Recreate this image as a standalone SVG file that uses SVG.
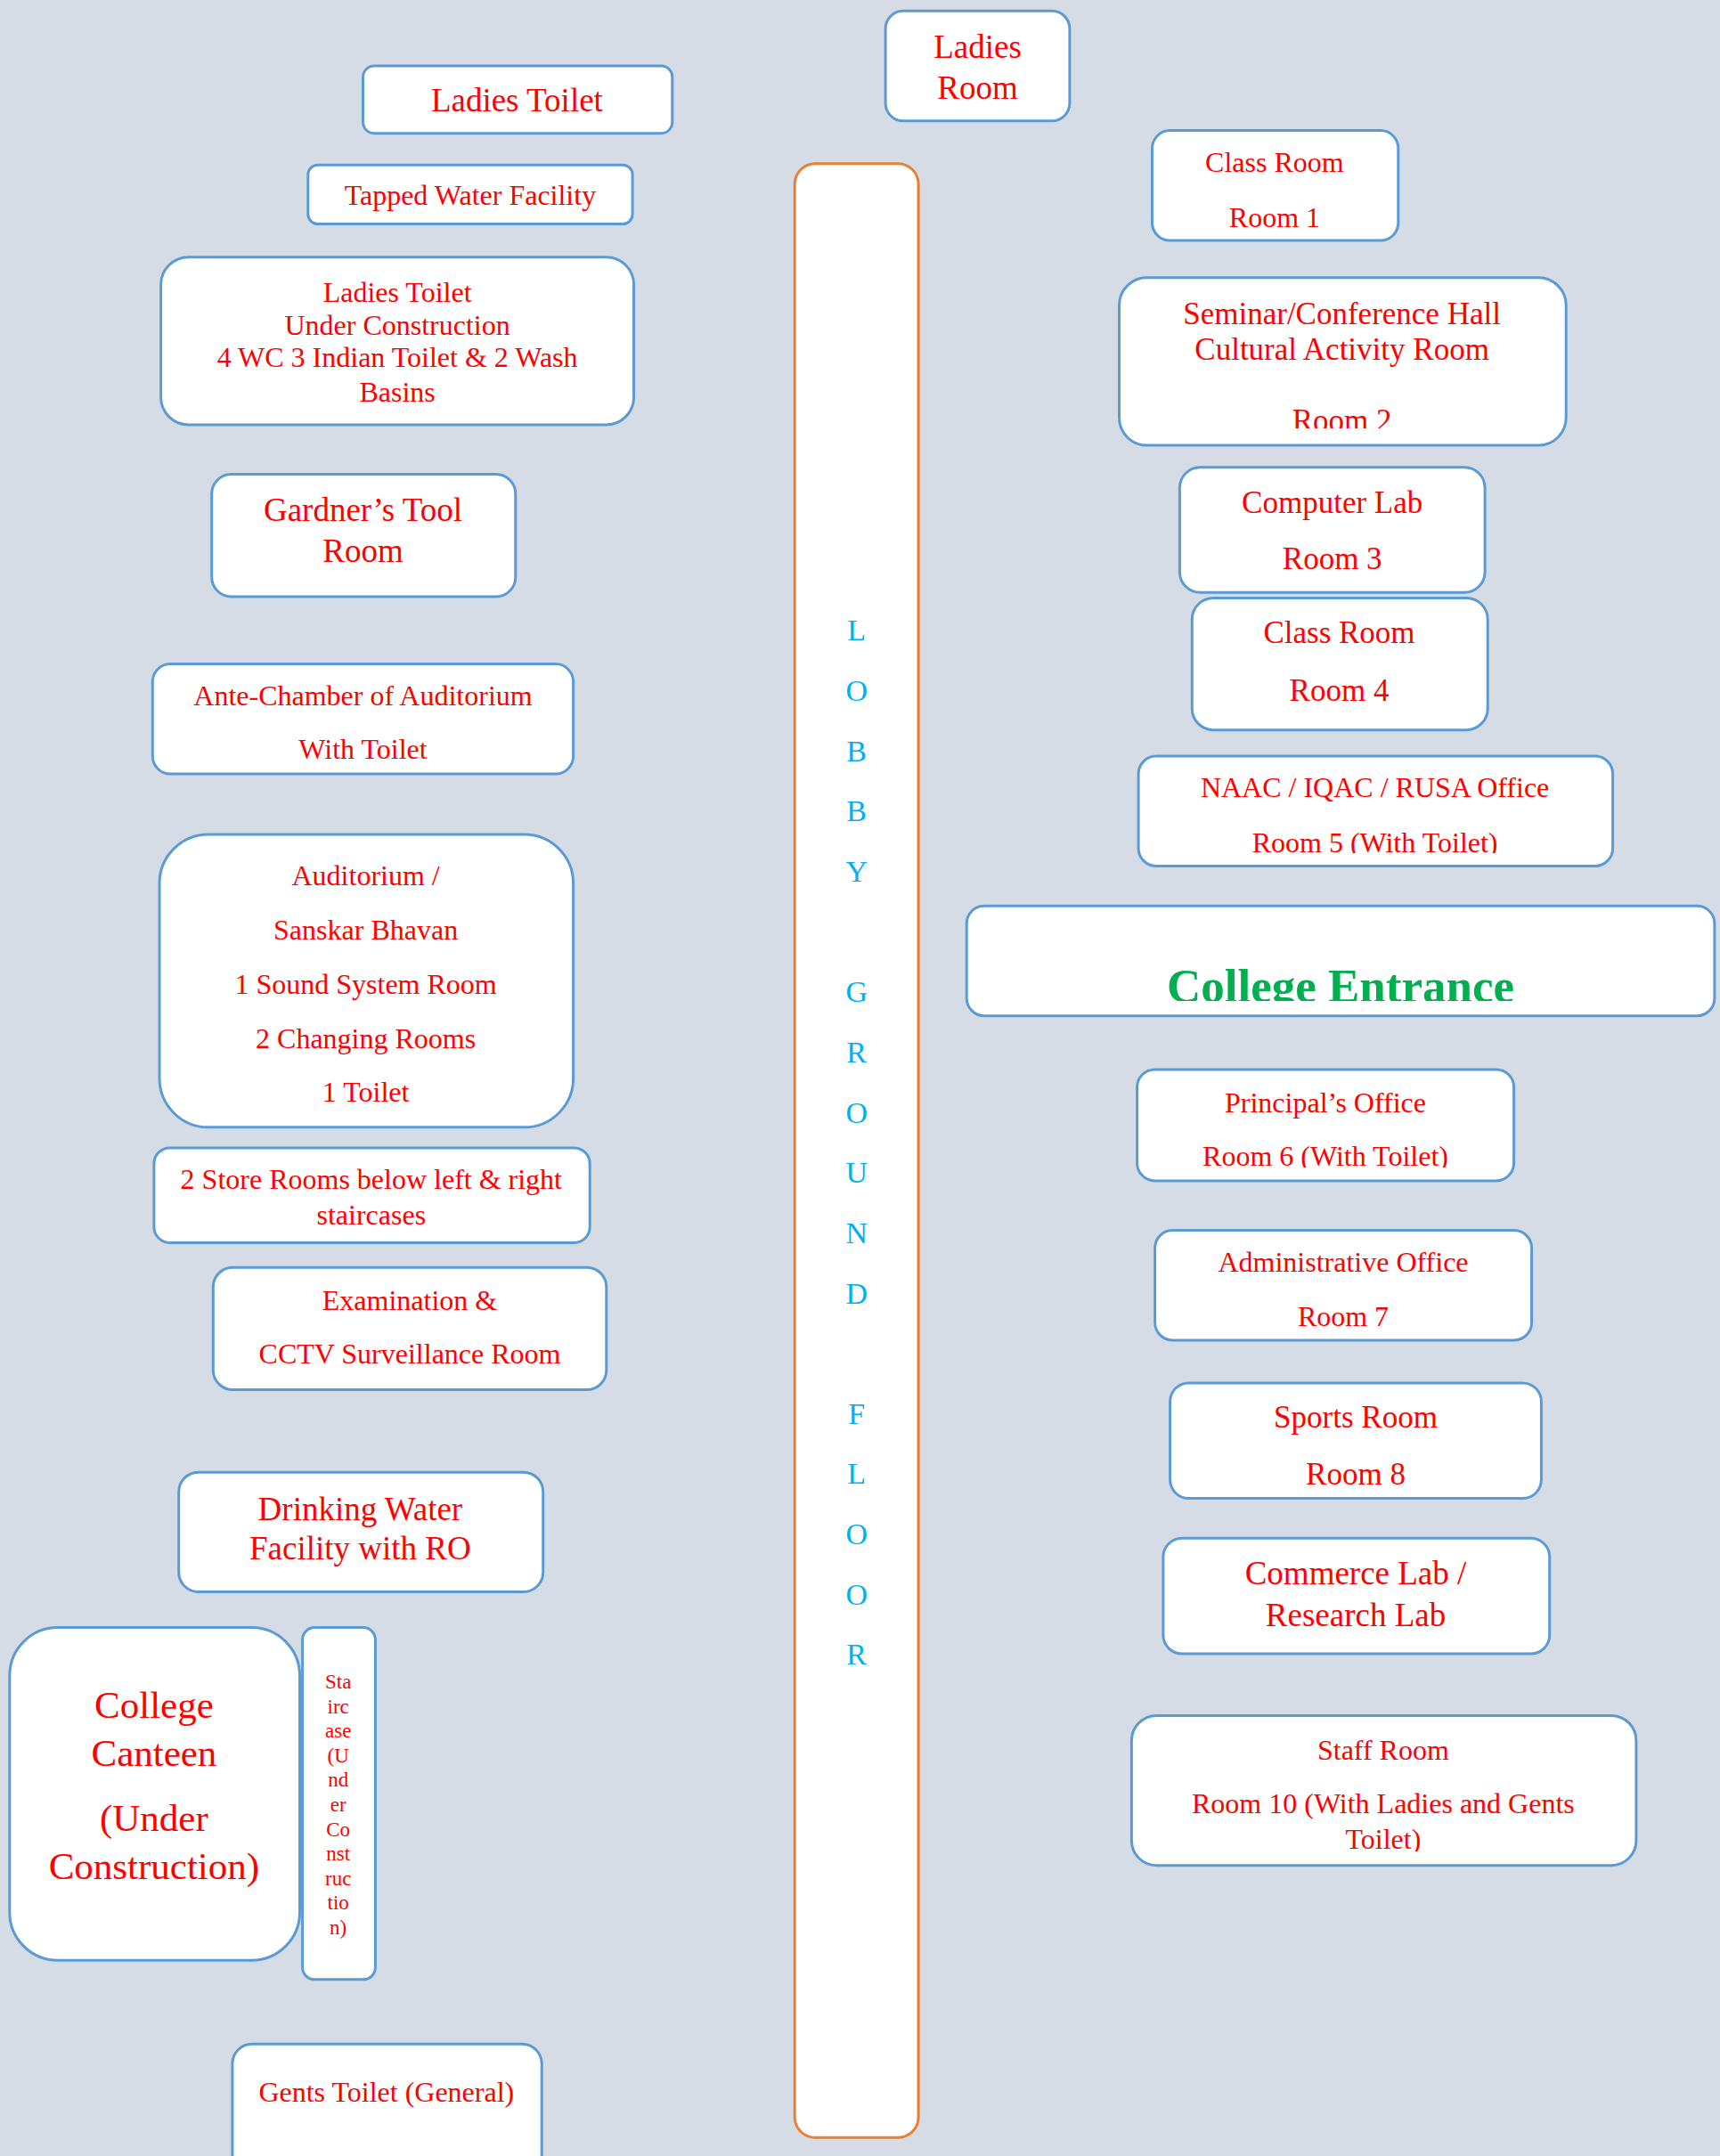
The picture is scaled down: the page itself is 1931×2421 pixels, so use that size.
<svg xmlns="http://www.w3.org/2000/svg" width="1931" height="2421" viewBox="0 0 1931 2421">
<style>
.bx{fill:#FFFFFF;stroke:#5B9BD5;stroke-width:3}
.lobby{fill:#FFFFFF;stroke:#ED7D31;stroke-width:3}
.t{font-family:"Liberation Serif","Times New Roman",serif;fill:#FF0000;text-anchor:middle}
.s32{font-size:32px}
.s35{font-size:35px}
.s37{font-size:37px}
.s43{font-size:43px}
.s23{font-size:23px}
.lt{font-family:"Liberation Serif","Times New Roman",serif;fill:#00B0F0;font-size:34px;text-anchor:middle}
.ent{font-family:"Liberation Serif","Times New Roman",serif;fill:#00B050;font-weight:bold;font-size:53px;text-anchor:middle}
</style>
<defs>
<clipPath id="cSem"><rect x="1256" y="311" width="502" height="170"/></clipPath>
<clipPath id="cNaac"><rect x="1278" y="849" width="533" height="109"/></clipPath>
<clipPath id="cEnt"><rect x="1085" y="1017" width="840" height="107"/></clipPath>
<clipPath id="cPri"><rect x="1276" y="1200" width="423" height="111"/></clipPath>
<clipPath id="cStaff"><rect x="1270" y="1926" width="567" height="153"/></clipPath>
</defs>
<rect x="0" y="0" width="1931" height="2421" fill="#D6DCE5"/>
<g id="connectors"/>

<g id="lobby">
<rect class="lobby" x="892.2" y="183.7" width="138.9" height="2216.6" rx="23"/>
<text class="lt" x="961.7" y="719.3">L</text>
<text class="lt" x="961.7" y="787">O</text>
<text class="lt" x="961.7" y="854.6">B</text>
<text class="lt" x="961.7" y="922.3">B</text>
<text class="lt" x="961.7" y="989.9">Y</text>
<text class="lt" x="961.7" y="1125.2">G</text>
<text class="lt" x="961.7" y="1192.9">R</text>
<text class="lt" x="961.7" y="1260.5">O</text>
<text class="lt" x="961.7" y="1328.2">U</text>
<text class="lt" x="961.7" y="1395.8">N</text>
<text class="lt" x="961.7" y="1463.5">D</text>
<text class="lt" x="961.7" y="1598.8">F</text>
<text class="lt" x="961.7" y="1666.4">L</text>
<text class="lt" x="961.7" y="1734.1">O</text>
<text class="lt" x="961.7" y="1801.7">O</text>
<text class="lt" x="961.7" y="1869.4">R</text>
</g>

<g id="ladies-toilet">
<rect class="bx" x="407.5" y="74.1" width="347.3" height="75.6" rx="12.6"/>
<text class="t s37" x="580.4" y="125">Ladies Toilet</text>
</g>

<g id="ladies-room">
<rect class="bx" x="994.1" y="12.3" width="206.8" height="123.5" rx="20"/>
<text class="t s37" x="1097.5" y="65">Ladies</text>
<text class="t s37" x="1097.5" y="111">Room</text>
</g>

<g id="tapped-water">
<rect class="bx" x="345.8" y="185.2" width="364.3" height="66.4" rx="11"/>
<text class="t s32" x="527.9" y="230">Tapped Water Facility</text>
</g>

<g id="ladies-toilet-uc">
<rect class="bx" x="180.6" y="288.7" width="531" height="188.3" rx="31"/>
<text class="t s32" x="446.1" y="339">Ladies Toilet</text>
<text class="t s32" x="446.1" y="376">Under Construction</text>
<text class="t s32" x="446.1" y="412">4 WC 3 Indian Toilet &amp; 2 Wash</text>
<text class="t s32" x="446.1" y="451">Basins</text>
</g>

<g id="gardner">
<rect class="bx" x="237.7" y="532.5" width="341.1" height="137.4" rx="22"/>
<text class="t s37" x="407.5" y="584.5">Gardner’s Tool</text>
<text class="t s37" x="407.5" y="630.8">Room</text>
</g>

<g id="ante-chamber">
<rect class="bx" x="171.3" y="745.6" width="472.3" height="123.5" rx="20"/>
<text class="t s32" x="407.5" y="791.5">Ante-Chamber of Auditorium</text>
<text class="t s32" x="407.5" y="851.5">With Toilet</text>
</g>

<g id="auditorium">
<rect class="bx" x="179" y="937" width="464.6" height="328.8" rx="55"/>
<text class="t s32" x="410.6" y="993.5">Auditorium /</text>
<text class="t s32" x="410.6" y="1055.3">Sanskar Bhavan</text>
<text class="t s32" x="410.6" y="1115.5">1 Sound System Room</text>
<text class="t s32" x="410.6" y="1177.2">2 Changing Rooms</text>
<text class="t s32" x="410.6" y="1237.4">1 Toilet</text>
</g>

<g id="store-rooms">
<rect class="bx" x="172.9" y="1288.9" width="489.3" height="106.5" rx="17.7"/>
<text class="t s32" x="416.8" y="1334.7">2 Store Rooms below left &amp; right</text>
<text class="t s32" x="416.8" y="1374.8">staircases</text>
</g>

<g id="examination">
<rect class="bx" x="239.3" y="1423.2" width="441.5" height="137.4" rx="22"/>
<text class="t s32" x="460" y="1470.5">Examination &amp;</text>
<text class="t s32" x="460" y="1530.7">CCTV Surveillance Room</text>
</g>

<g id="drinking-water">
<rect class="bx" x="200.7" y="1653.2" width="409" height="134.3" rx="22"/>
<text class="t s37" x="404.4" y="1706.7">Drinking Water</text>
<text class="t s37" x="404.4" y="1751.4">Facility with RO</text>
</g>

<g id="canteen">
<rect class="bx" x="10.8" y="1827.6" width="325.7" height="373.6" rx="54"/>
<text class="t s43" x="172.9" y="1929">College</text>
<text class="t s43" x="172.9" y="1983">Canteen</text>
<text class="t s43" x="172.9" y="2055.5">(Under</text>
<text class="t s43" x="172.9" y="2109.6">Construction)</text>
</g>

<g id="staircase">
<rect class="bx" x="339.6" y="1827.6" width="81.8" height="395.2" rx="13.6"/>
<text class="t s23" x="379.7" y="1896">Sta</text>
<text class="t s23" x="379.7" y="1923.6">irc</text>
<text class="t s23" x="379.7" y="1951.2">ase</text>
<text class="t s23" x="379.7" y="1978.8">(U</text>
<text class="t s23" x="379.7" y="2006.4">nd</text>
<text class="t s23" x="379.7" y="2034">er</text>
<text class="t s23" x="379.7" y="2061.6">Co</text>
<text class="t s23" x="379.7" y="2089.2">nst</text>
<text class="t s23" x="379.7" y="2116.8">ruc</text>
<text class="t s23" x="379.7" y="2144.4">tio</text>
<text class="t s23" x="379.7" y="2172">n)</text>
</g>

<g id="gents-toilet">
<rect class="bx" x="260.9" y="2295.3" width="347.3" height="160" rx="22"/>
<text class="t s32" x="433.8" y="2359.6">Gents Toilet (General)</text>
</g>

<g id="room1">
<rect class="bx" x="1293.5" y="146.6" width="276.3" height="123.5" rx="20"/>
<text class="t s32" x="1430.9" y="192.9">Class Room</text>
<text class="t s32" x="1430.9" y="254.5">Room 1</text>
</g>

<g id="room2">
<rect class="bx" x="1256.5" y="311.8" width="501.7" height="188.3" rx="31"/>
<g clip-path="url(#cSem)">
<text class="t s35" x="1506.6" y="363.7">Seminar/Conference Hall</text>
<text class="t s35" x="1506.6" y="403.9">Cultural Activity Room</text>
<text class="t s35" x="1506.6" y="484">Room 2</text>
</g>
</g>

<g id="room3">
<rect class="bx" x="1324.4" y="524.8" width="342.7" height="140.5" rx="23"/>
<text class="t s35" x="1495.7" y="575.7">Computer Lab</text>
<text class="t s35" x="1495.7" y="638.5">Room 3</text>
</g>

<g id="room4">
<rect class="bx" x="1338.3" y="671.5" width="331.9" height="148.2" rx="24"/>
<text class="t s35" x="1503.5" y="722.4">Class Room</text>
<text class="t s35" x="1503.5" y="786.7">Room 4</text>
</g>

<g id="room5">
<rect class="bx" x="1278.1" y="849" width="532.5" height="123.5" rx="20"/>
<g clip-path="url(#cNaac)">
<text class="t s32" x="1543.6" y="894.7">NAAC / IQAC / RUSA Office</text>
<text class="t s32" x="1543.6" y="957">Room 5 (With Toilet)</text>
</g>
</g>

<g id="entrance">
<rect class="bx" x="1085.2" y="1017.2" width="839.7" height="123.5" rx="20"/>
<g clip-path="url(#cEnt)">
<text class="ent" x="1505" y="1125">College Entrance</text>
</g>
</g>

<g id="room6">
<rect class="bx" x="1276.6" y="1200.9" width="423" height="125" rx="20"/>
<g clip-path="url(#cPri)">
<text class="t s32" x="1488" y="1248.5">Principal’s Office</text>
<text class="t s32" x="1488" y="1309">Room 6 (With Toilet)</text>
</g>
</g>

<g id="room7">
<rect class="bx" x="1296.6" y="1381.5" width="423" height="123.5" rx="20"/>
<text class="t s32" x="1508" y="1427.5">Administrative Office</text>
<text class="t s32" x="1508" y="1489">Room 7</text>
</g>

<g id="room8">
<rect class="bx" x="1313.6" y="1552.9" width="416.8" height="129.7" rx="21"/>
<text class="t s35" x="1522" y="1603.3">Sports Room</text>
<text class="t s35" x="1522" y="1666.5">Room 8</text>
</g>

<g id="commerce-lab">
<rect class="bx" x="1305.9" y="1727.3" width="433.8" height="129.7" rx="21"/>
<text class="t s37" x="1522" y="1779.2">Commerce Lab /</text>
<text class="t s37" x="1522" y="1825.5">Research Lab</text>
</g>

<g id="staff-room">
<rect class="bx" x="1270.4" y="1926.4" width="566.5" height="168.3" rx="28"/>
<g clip-path="url(#cStaff)">
<text class="t s32" x="1552.9" y="1975.5">Staff Room</text>
<text class="t s32" x="1552.9" y="2035.5">Room 10 (With Ladies and Gents</text>
<text class="t s32" x="1552.9" y="2075.6">Toilet)</text>
</g>
</g>
</svg>
